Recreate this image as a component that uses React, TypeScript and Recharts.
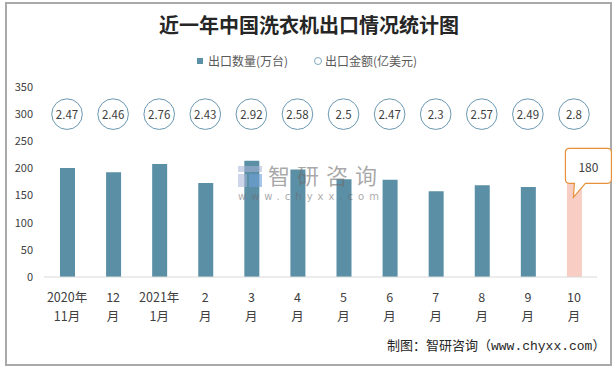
import React from 'react';
import { ComposedChart, Bar, Line, XAxis, YAxis, Cell } from 'recharts';

const monthLine1 = ['2020年', '12', '2021年', '2', '3', '4', '5', '6', '7', '8', '9', '10'];
const monthLine2 = ['11月', '月', '1月', '月', '月', '月', '月', '月', '月', '月', '月', '月'];
const exportVolume = [201, 193, 208, 173, 214, 198, 180, 179, 158, 169, 166, 180];
const exportValue = [2.47, 2.46, 2.76, 2.43, 2.92, 2.58, 2.5, 2.47, 2.3, 2.57, 2.49, 2.8];
const yTicks = [0, 50, 100, 150, 200, 250, 300, 350];

const data = monthLine1.map((m, i) => ({
  month: m + monthLine2[i],
  volume: exportVolume[i],
  value: exportValue[i],
}));

const BUBBLE_LEVEL = 300;
const HIGHLIGHT_INDEX = 11;
const FONT = '"Noto Sans CJK SC", "Noto Sans", sans-serif';
const BAR_COLOR = '#5b8fa6';
const PINK = '#f8cec4';
const TEXT = '#404040';

const XTick = (props: any) => {
  const { x, y, index } = props;
  return (
    <g>
      <text x={x} y={y + 24.5} textAnchor="middle" fontSize={12.5} fill={TEXT} fontFamily={FONT}>
        {monthLine1[index]}
      </text>
      <text x={x} y={y + 43.5} textAnchor="middle" fontSize={12.5} fill={TEXT} fontFamily={FONT}>
        {monthLine2[index]}
      </text>
    </g>
  );
};

const Bubble = (props: any) => {
  const { cx, cy, index } = props;
  if (cx == null || cy == null) return <g key={`b-${index}`} />;
  return (
    <g key={`b-${index}`}>
      <circle cx={cx} cy={cy} r={15.3} fill="#fff" stroke="#6a98b2" strokeWidth={1} />
      <text x={cx} y={cy} textAnchor="middle" dominantBaseline="central" fontSize={11.5} fill={TEXT} fontFamily={FONT}>
        {exportValue[index]}
      </text>
    </g>
  );
};

const Callout = (props: any) => {
  const { x, y, width, index, value } = props;
  if (index !== HIGHLIGHT_INDEX) return null;
  const cx = x + width / 2;
  const ty = y;
  const L = cx - 9;
  const R = cx + 37;
  const T = ty - 31;
  const B = ty + 4;
  const r = 4;
  const d = `M ${L + r},${T} H ${R - r} Q ${R},${T} ${R},${T + r} V ${B - r} Q ${R},${B} ${R - r},${B} H ${cx + 11} L ${cx - 1},${ty + 18} L ${cx},${B} H ${L + r} Q ${L},${B} ${L},${B - r} V ${T + r} Q ${L},${T} ${L + r},${T} Z`;
  return (
    <g>
      <path d={d} fill="#fff" stroke="#e8913a" strokeWidth={1.2} />
      <text x={cx + 14} y={ty - 13} textAnchor="middle" dominantBaseline="central" fontSize={12} fill={TEXT} fontFamily={FONT}>
        {value}
      </text>
    </g>
  );
};

export default function App() {
  return (
    <div style={{ position: 'absolute', left: 0, top: 0, width: 616, height: 369, background: '#fff', fontFamily: FONT, overflow: 'hidden' }}>
      <div style={{ position: 'absolute', left: 5, top: 2, width: 603, height: 360, border: '2px solid #a9a9a9' }} />
      <div style={{ position: 'absolute', left: 0, top: 15, width: 618, height: 20, lineHeight: '20px', textAlign: 'center', fontSize: 20, fontWeight: 700, color: '#262626' }}>
        近一年中国洗衣机出口情况统计图
      </div>
      <div style={{ position: 'absolute', left: 197, top: 58, width: 6, height: 6, background: BAR_COLOR }} />
      <div style={{ position: 'absolute', left: 208, top: 54, height: 14, lineHeight: '14px', fontSize: 12, color: '#595959', whiteSpace: 'nowrap' }}>
        出口数量(万台)
      </div>
      <div style={{ position: 'absolute', left: 314, top: 57, width: 6, height: 6, borderRadius: '50%', border: '1px solid #7fa6bd' }} />
      <div style={{ position: 'absolute', left: 325, top: 54, height: 14, lineHeight: '14px', fontSize: 12, color: '#595959', whiteSpace: 'nowrap' }}>
        出口金额(亿美元)
      </div>
      <div style={{ position: 'absolute', left: 0, top: 0 }}>
        <ComposedChart width={616} height={369} data={data} margin={{ top: 87, right: 19, bottom: 62, left: 0 }}>
          <YAxis
            domain={[0, 350]}
            ticks={yTicks}
            axisLine={false}
            tickLine={false}
            tickSize={0}
            tickMargin={11}
            width={44}
            tick={{ fontSize: 11, fill: TEXT, fontFamily: FONT }}
          />
          <XAxis
            dataKey="month"
            axisLine={{ stroke: '#d9d9d9', strokeWidth: 1 }}
            tickLine={false}
            tickSize={0}
            tickMargin={0}
            height={30}
            interval={0}
            tick={<XTick />}
          />
          <Bar dataKey="volume" barSize={15} isAnimationActive={false} label={<Callout />}>
            {data.map((_, i) => (
              <Cell key={i} fill={i === HIGHLIGHT_INDEX ? PINK : BAR_COLOR} />
            ))}
          </Bar>
          <Line
            dataKey={() => BUBBLE_LEVEL}
            stroke="none"
            dot={(p: any) => <Bubble {...p} />}
            activeDot={false}
            isAnimationActive={false}
            legendType="none"
          />
        </ComposedChart>
      </div>
      {/* watermark */}
      <div style={{ position: 'absolute', left: 238, top: 166, width: 24, height: 21, pointerEvents: 'none' }}>
        <div style={{ position: 'absolute', left: 0, top: 0, width: 24, height: 6, background: 'rgba(170,180,215,0.55)' }} />
        <div style={{ position: 'absolute', left: 0, top: 8, width: 9, height: 13, background: 'rgba(170,180,215,0.55)' }} />
        <div style={{ position: 'absolute', left: 11, top: 8, width: 13, height: 13, background: 'rgba(110,160,215,0.6)' }} />
      </div>
      <div style={{ position: 'absolute', left: 268, top: 158.4, height: 32, lineHeight: '32px', fontSize: 22, letterSpacing: 7, color: 'rgba(110,110,110,0.6)', whiteSpace: 'nowrap' }}>
        智研咨询
      </div>
      <div style={{ position: 'absolute', left: 238, top: 191, height: 12, lineHeight: '12px', fontSize: 10, letterSpacing: 5, color: 'rgba(110,110,110,0.6)', whiteSpace: 'nowrap', fontFamily: '"DejaVu Sans", sans-serif' }}>
        www.chyxx.com
      </div>
      <div style={{ position: 'absolute', left: 387, top: 339, height: 16, lineHeight: '16px', fontSize: 13, color: '#262626', whiteSpace: 'nowrap', fontFamily: '"Liberation Mono", "Noto Sans CJK SC", monospace' }}>
        制图：智研咨询（www.chyxx.com）
      </div>
    </div>
  );
}
